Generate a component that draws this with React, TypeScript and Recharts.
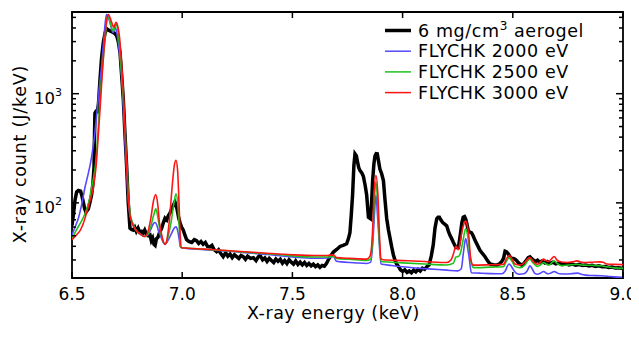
import React from 'react';
import { LineChart, Line, XAxis, YAxis, ReferenceArea } from 'recharts';

// ---------- data (energy keV, X-ray count J/keV) ----------
const aerogel: [number, number][] = [
  [6.5, 62], [6.506, 77], [6.514, 107], [6.521, 126], [6.529, 130], [6.539, 128], [6.545, 116], [6.551, 102],
  [6.557, 89], [6.563, 82], [6.569, 85], [6.574, 88], [6.582, 102], [6.589, 119], [6.595, 150], [6.6, 213],
  [6.602, 400], [6.604, 663], [6.609, 690], [6.615, 686], [6.62, 800], [6.627, 1345], [6.634, 2100], [6.642, 2940],
  [6.65, 3600], [6.657, 3950], [6.664, 3850], [6.672, 3760], [6.68, 3700], [6.687, 3630], [6.695, 3550], [6.703, 3380],
  [6.71, 3000], [6.718, 2375], [6.725, 1500], [6.733, 880], [6.74, 440], [6.748, 213], [6.755, 102], [6.763, 58.7],
  [6.77, 57], [6.778, 56.3], [6.785, 59.5], [6.792, 54.8], [6.8, 58.7], [6.807, 54], [6.815, 54.8], [6.822, 52.5],
  [6.83, 56.3], [6.838, 51.7], [6.846, 50], [6.854, 50.8], [6.86, 45.1], [6.866, 47.6], [6.872, 41.7], [6.877, 40.8],
  [6.883, 46.8], [6.89, 48.4], [6.897, 53.2], [6.907, 58.7], [6.914, 65.3], [6.922, 72.4], [6.93, 69.6], [6.937, 76],
  [6.945, 81], [6.952, 88], [6.96, 95], [6.967, 102], [6.972, 97], [6.978, 85], [6.984, 73], [6.99, 66],
  [6.997, 60], [7.005, 56.3], [7.012, 50.8], [7.02, 46], [7.03, 44.3], [7.043, 43.4], [7.055, 46], [7.065, 45.1],
  [7.075, 42.5], [7.085, 44.3], [7.095, 41.7], [7.105, 43.4], [7.115, 39.9], [7.126, 39.5], [7.135, 40.8], [7.145, 37.2],
  [7.156, 35.7], [7.165, 37.2], [7.175, 34.4], [7.186, 32.2], [7.197, 34.9], [7.207, 32.5], [7.217, 34], [7.227, 31.5],
  [7.237, 33.5], [7.247, 32.2], [7.257, 31], [7.267, 33], [7.277, 32.2], [7.287, 30.4], [7.297, 32.5], [7.31, 31],
  [7.323, 31.4], [7.335, 29.6], [7.345, 32], [7.353, 33.1], [7.365, 30.1], [7.375, 31.3], [7.385, 29.1], [7.395, 31],
  [7.405, 29.6], [7.415, 28.4], [7.425, 30.6], [7.435, 29.1], [7.445, 30.4], [7.455, 28], [7.465, 29.6], [7.475, 27.8],
  [7.485, 30.1], [7.495, 28.6], [7.505, 27.5], [7.515, 29.4], [7.525, 27.3], [7.535, 28.6], [7.545, 27], [7.555, 28.4],
  [7.565, 26.7], [7.575, 27.9], [7.585, 26.5], [7.595, 27.5], [7.605, 26.1], [7.615, 27], [7.625, 25.7], [7.635, 26.7],
  [7.645, 26.3], [7.655, 28], [7.665, 30.6], [7.675, 33], [7.686, 35.4], [7.701, 37.4], [7.716, 39.9], [7.73, 40.8],
  [7.746, 42.2], [7.754, 46.8], [7.761, 53.2], [7.767, 77], [7.773, 118], [7.779, 220], [7.784, 281], [7.79, 270],
  [7.795, 240], [7.801, 210], [7.807, 197], [7.815, 188], [7.822, 175], [7.83, 145], [7.837, 118], [7.845, 73.8],
  [7.855, 71.5], [7.86, 107], [7.864, 160], [7.87, 230], [7.875, 270], [7.88, 282], [7.885, 281], [7.891, 240],
  [7.897, 204], [7.905, 185], [7.913, 160], [7.92, 107], [7.928, 71.5], [7.936, 56.3], [7.943, 47.6], [7.95, 39.9],
  [7.958, 33.5], [7.966, 29.6], [7.973, 27.5], [7.982, 26], [7.99, 24.4], [8.0, 23.6], [8.01, 24.4], [8.02, 23.1],
  [8.03, 23.8], [8.04, 22.9], [8.05, 24.2], [8.06, 23.3], [8.07, 24.6], [8.08, 23.7], [8.09, 25.2], [8.1, 24.6],
  [8.11, 26], [8.12, 27], [8.13, 32.5], [8.139, 41.2], [8.147, 58.7], [8.155, 71.5], [8.161, 73.8], [8.167, 73.8],
  [8.174, 69.6], [8.182, 66], [8.191, 63.8], [8.2, 61.6], [8.208, 54.8], [8.215, 50.4], [8.223, 46.8], [8.23, 43.5],
  [8.242, 39], [8.253, 39], [8.258, 45.1], [8.263, 53.2], [8.269, 66], [8.275, 74], [8.281, 75], [8.286, 71.5],
  [8.292, 63.8], [8.298, 55.5], [8.305, 54], [8.313, 53.2], [8.32, 50], [8.328, 45.6], [8.34, 40.8], [8.351, 36.8],
  [8.362, 34.4], [8.374, 32.1], [8.385, 29.6], [8.397, 27.5], [8.412, 27.1], [8.427, 26.9], [8.44, 27.7], [8.45, 29],
  [8.458, 31], [8.465, 36], [8.472, 35.5], [8.48, 34], [8.488, 32], [8.495, 31], [8.503, 31], [8.51, 30.5],
  [8.518, 29.5], [8.525, 28.3], [8.533, 27.5], [8.54, 26.9], [8.55, 27.8], [8.563, 30], [8.57, 31.5], [8.578, 32],
  [8.585, 31], [8.593, 30], [8.602, 29], [8.612, 29.8], [8.622, 28.5], [8.632, 29.3], [8.645, 28.2], [8.657, 29],
  [8.67, 27.9], [8.682, 28.6], [8.695, 27.6], [8.71, 28.2], [8.725, 27.2], [8.74, 27.8], [8.755, 27], [8.77, 27.5],
  [8.785, 26.9], [8.8, 27.3], [8.815, 26.7], [8.83, 27], [8.845, 26.4], [8.86, 26.8], [8.875, 26.2], [8.89, 26.5],
  [8.905, 26], [8.92, 26.1], [8.935, 25.6], [8.95, 25.8], [8.965, 25.3], [8.98, 25.4], [9.0, 25],
];

const flychk2000: [number, number][] = [
  [6.5, 50.8], [6.515, 60.9], [6.529, 72.4], [6.545, 99], [6.559, 139], [6.575, 190], [6.589, 264], [6.6, 380],
  [6.61, 576], [6.622, 1050], [6.634, 1785], [6.645, 3300], [6.652, 4700], [6.657, 5300], [6.664, 5100], [6.672, 4500],
  [6.68, 3900], [6.685, 3630], [6.69, 3800], [6.695, 4050], [6.702, 3700], [6.71, 2940], [6.718, 2100], [6.725, 1445],
  [6.733, 750], [6.74, 376], [6.748, 190], [6.756, 102], [6.763, 77], [6.77, 68.9], [6.78, 60.9], [6.79, 56.3],
  [6.805, 52.5], [6.82, 50], [6.831, 49.2], [6.845, 50.8], [6.86, 58.7], [6.87, 64.6], [6.877, 66], [6.885, 62.4],
  [6.893, 54.8], [6.9, 50.8], [6.91, 45.1], [6.922, 41.7], [6.935, 45.1], [6.95, 51.7], [6.962, 58], [6.972, 60.2],
  [6.98, 54.8], [6.986, 46.8], [6.992, 39.4], [7.0, 38.6], [7.1, 37.3], [7.2, 36.2], [7.3, 34.8], [7.4, 33.5],
  [7.5, 32], [7.6, 31.1], [7.66, 31.3], [7.686, 32.3], [7.7, 29.2], [7.72, 28.8], [7.78, 28.3], [7.837, 27.8],
  [7.855, 28.6], [7.866, 46.8], [7.872, 77], [7.879, 118], [7.886, 77], [7.893, 46.8], [7.902, 27.5], [7.95, 26.7],
  [8.0, 26], [8.1, 25], [8.2, 24.2], [8.25, 23.8], [8.266, 24.9], [8.276, 35], [8.286, 47], [8.294, 40],
  [8.302, 31.5], [8.312, 22.9], [8.35, 22.7], [8.4, 22.5], [8.45, 22.4], [8.466, 23.8], [8.476, 26.5], [8.484, 27.5],
  [8.492, 26.5], [8.5, 24.9], [8.515, 22.7], [8.53, 22.2], [8.55, 22.4], [8.565, 23.8], [8.578, 26.5], [8.59, 24.4],
  [8.6, 22.6], [8.612, 22.2], [8.625, 22.7], [8.64, 23.5], [8.652, 22.7], [8.662, 22.4], [8.675, 22.9], [8.688, 23.5],
  [8.7, 22.9], [8.712, 22.4], [8.74, 22.3], [8.77, 22.5], [8.795, 22.7], [8.81, 22.2], [8.83, 21.8], [8.86, 21.6],
  [8.9, 21.5], [8.93, 21.3], [8.96, 21], [9.0, 20.8],
];

const flychk2500: [number, number][] = [
  [6.5, 46.8], [6.52, 56.3], [6.538, 65.3], [6.552, 73.8], [6.567, 88], [6.58, 109], [6.589, 139], [6.6, 180],
  [6.609, 246], [6.618, 450], [6.627, 880], [6.638, 1700], [6.65, 3150], [6.656, 4300], [6.66, 5000], [6.666, 4950],
  [6.672, 4600], [6.68, 4000], [6.687, 3750], [6.693, 4000], [6.7, 4340], [6.706, 4000], [6.713, 3150], [6.722, 1800],
  [6.733, 880], [6.74, 480], [6.748, 246], [6.755, 128], [6.763, 82], [6.775, 65.3], [6.79, 56.3], [6.81, 51.7],
  [6.831, 49.2], [6.845, 51.7], [6.86, 63.8], [6.872, 79], [6.88, 88], [6.888, 77], [6.896, 60.9], [6.905, 50.8],
  [6.914, 44.3], [6.922, 41.7], [6.935, 48.4], [6.948, 63.8], [6.96, 92], [6.972, 121], [6.98, 97], [6.986, 62.4],
  [6.992, 39.9], [7.0, 38.8], [7.1, 37.6], [7.2, 36.4], [7.3, 35.2], [7.4, 34.1], [7.5, 32.7], [7.6, 31.9],
  [7.66, 31.9], [7.686, 32.3], [7.7, 31], [7.76, 30.4], [7.837, 29.7], [7.855, 30.6], [7.864, 46.8], [7.872, 107],
  [7.879, 155], [7.886, 107], [7.894, 46.8], [7.902, 29], [8.0, 28.2], [8.1, 27.5], [8.2, 27], [8.23, 28],
  [8.242, 31.9], [8.253, 32.3], [8.262, 34.4], [8.274, 45], [8.286, 58], [8.295, 50], [8.304, 36], [8.313, 27.5],
  [8.322, 25.5], [8.4, 25.8], [8.457, 26], [8.47, 29], [8.484, 31.5], [8.495, 29.5], [8.51, 26.2], [8.533, 25.5],
  [8.555, 27], [8.567, 29.5], [8.578, 30.5], [8.59, 28.5], [8.602, 26.9], [8.612, 26.2], [8.625, 27], [8.64, 28.4],
  [8.652, 27.4], [8.664, 26.9], [8.676, 28.2], [8.688, 29.4], [8.7, 27.9], [8.72, 26.6], [8.75, 26.9], [8.79, 27.4],
  [8.82, 26.9], [8.86, 26.8], [8.9, 26.5], [8.93, 25.9], [8.96, 25.4], [9.0, 25.1],
];

const flychk3000: [number, number][] = [
  [6.5, 46], [6.52, 50.8], [6.538, 56.3], [6.552, 65.3], [6.567, 82], [6.582, 105], [6.597, 139], [6.609, 213],
  [6.618, 380], [6.627, 710], [6.638, 1600], [6.65, 3380], [6.658, 4800], [6.665, 5300], [6.672, 5000], [6.68, 4500],
  [6.69, 4050], [6.695, 4300], [6.7, 4500], [6.707, 4200], [6.715, 3380], [6.724, 2000], [6.733, 1020], [6.74, 480],
  [6.748, 213], [6.755, 113], [6.763, 77], [6.775, 63.8], [6.79, 56.3], [6.81, 51.7], [6.831, 49.2], [6.845, 54.8],
  [6.858, 73], [6.87, 105], [6.88, 119], [6.889, 97], [6.897, 65.3], [6.905, 53.2], [6.914, 44.3], [6.922, 41.7],
  [6.93, 45.1], [6.942, 69.6], [6.955, 145], [6.965, 225], [6.972, 246], [6.979, 200], [6.985, 107], [6.991, 50.8],
  [6.996, 39], [7.0, 38.8], [7.1, 37.7], [7.2, 36.6], [7.3, 35.5], [7.4, 34.4], [7.5, 33.5], [7.6, 33],
  [7.66, 33], [7.686, 33.4], [7.7, 31.5], [7.76, 31], [7.837, 30.5], [7.852, 32.5], [7.86, 41.2], [7.866, 69.6],
  [7.87, 118], [7.879, 178], [7.888, 118], [7.895, 50.8], [7.902, 30.6], [7.913, 30.1], [8.0, 29.6], [8.1, 29],
  [8.2, 28.4], [8.22, 30.1], [8.23, 33.8], [8.242, 39.9], [8.253, 37.2], [8.26, 42.5], [8.268, 53.2], [8.278, 64],
  [8.286, 68], [8.294, 61], [8.3, 50.8], [8.309, 30.5], [8.321, 26.9], [8.4, 27.1], [8.457, 27.3], [8.472, 31],
  [8.484, 33], [8.495, 31], [8.51, 27.5], [8.533, 26.9], [8.555, 28.6], [8.567, 30.5], [8.578, 31.5], [8.593, 29],
  [8.611, 27.3], [8.625, 28.6], [8.639, 30.5], [8.65, 29.6], [8.661, 29], [8.675, 30.6], [8.687, 32.3], [8.7, 30.1],
  [8.712, 29], [8.744, 28.4], [8.77, 28.8], [8.79, 29.4], [8.82, 28.4], [8.86, 28.6], [8.896, 28.8], [8.91, 28.6],
  [8.926, 27.5], [8.96, 27.3], [9.0, 27.2],
];

const xTicks = [6.5, 7.0, 7.5, 8.0, 8.5, 9.0];
const yMajor = [100, 1000];
const yTicks = [30, 40, 50, 60, 70, 80, 90, 100, 200, 300, 400, 500, 600, 700, 800, 900, 1000, 2000, 3000, 4000, 5000];
const yDomain: [number, number] = [20.5, 5600];
const xDomain: [number, number] = [6.5, 9.0];

const seriesNames = ['6 mg/cm³ aerogel', 'FLYCHK 2000 eV', 'FLYCHK 2500 eV', 'FLYCHK 3000 eV'];

// ---------- layout ----------
const W = 631;
const H = 330;
const M = { top: 4, right: 16, left: 0, bottom: 0 };
const YW = 64;
const XH = 60;
const PL = M.left + YW;
const PR = W - M.right;
const PT = M.top;
const PB = H - M.bottom - XH;
const FONT = 'DejaVu Sans, Verdana, sans-serif';

const BLACK = '#000000';
const BLUE = '#5548ff';
const GREEN = '#1ec21e';
const RED = '#ff1414';

const toRows = (arr: [number, number][]) => arr.map(([x, v]) => ({ x, v }));

const XTick = (props: any) => {
  const { x, payload } = props;
  const v = payload.value as number;
  return (
    <g>
      <line x1={x} x2={x} y1={PB} y2={PB - 6} stroke="#000" strokeWidth={1.5} />
      <line x1={x} x2={x} y1={PT} y2={PT + 6} stroke="#000" strokeWidth={1.5} />
      <text x={x} y={PB + 22} textAnchor="middle" fontSize={17} fill="#000" fontFamily={FONT}>
        {v.toFixed(1)}
      </text>
    </g>
  );
};

const YTick = (props: any) => {
  const { y, payload } = props;
  const v = payload.value as number;
  const major = yMajor.includes(v);
  const len = major ? 7 : 4;
  const exp = Math.round(Math.log10(v));
  return (
    <g>
      <line x1={PL} x2={PL + len} y1={y} y2={y} stroke="#000" strokeWidth={1.5} />
      <line x1={PR - len} x2={PR} y1={y} y2={y} stroke="#000" strokeWidth={1.5} />
      {major && (
        <text x={PL - 10} y={y + 10} textAnchor="end" fontSize={16.5} fill="#000" fontFamily={FONT}>
          10<tspan dy={-8} fontSize={11}>{exp}</tspan>
        </text>
      )}
    </g>
  );
};

const YTitle = () => (
  <text
    x={18}
    y={146}
    transform="rotate(-90 18 146)"
    textAnchor="middle"
    fontSize={17.5}
    letterSpacing={0.8}
    fill="#000"
    fontFamily={FONT}
  >
    X-ray count (J/keV)
  </text>
);

const XTitle = () => (
  <text x={239} y={311} textAnchor="start" fontSize={17.5} letterSpacing={0.5} fill="#000" fontFamily={FONT}>
    X-ray energy (keV)
  </text>
);

const LegendBox = () => {
  const rows = [
    { c: BLACK, w: 3.5 },
    { c: BLUE, w: 1.5 },
    { c: GREEN, w: 1.5 },
    { c: RED, w: 1.5 },
  ];
  const y0 = 22.5;
  const dy = 20.7;
  return (
    <svg width={W} height={H} style={{ position: 'absolute', left: 0, top: 0, pointerEvents: 'none' }}>
      {rows.map((r, i) => {
        const cy = y0 + i * dy;
        return (
          <g key={i}>
            <line x1={377} x2={403} y1={cy} y2={cy} stroke={r.c} strokeWidth={r.w} />
            <text x={410} y={cy + 6} fontSize={17.5} letterSpacing={0.6} fill="#000" fontFamily={FONT}>
              {i === 0 ? (
                <>
                  6 mg/cm<tspan dy={-7} fontSize={12}>3</tspan>
                  <tspan dy={7}> aerogel</tspan>
                </>
              ) : (
                seriesNames[i]
              )}
            </text>
          </g>
        );
      })}
    </svg>
  );
};

export default function App() {
  return (
    <div style={{ position: 'relative', width: W, height: H, fontFamily: FONT }}>
      <LineChart width={W} height={H} margin={M}>
        <XAxis
          dataKey="x"
          type="number"
          domain={xDomain}
          ticks={xTicks}
          interval={0}
          allowDataOverflow
          axisLine={false}
          tickLine={false}
          tickSize={0}
          tickMargin={0}
          height={XH}
          tick={<XTick />}
          label={<XTitle />}
        />
        <YAxis
          type="number"
          scale="log"
          domain={yDomain}
          ticks={yTicks}
          interval={0}
          allowDataOverflow
          axisLine={false}
          tickLine={false}
          tickSize={0}
          tickMargin={0}
          width={YW}
          tick={<YTick />}
          label={<YTitle />}
        />
        <Line data={toRows(aerogel)} dataKey="v" name={seriesNames[0]} type="linear" stroke={BLACK} strokeWidth={3.5} dot={false} isAnimationActive={false} />
        <Line data={toRows(flychk2000)} dataKey="v" name={seriesNames[1]} type="monotone" stroke={BLUE} strokeWidth={1.6} dot={false} isAnimationActive={false} />
        <Line data={toRows(flychk2500)} dataKey="v" name={seriesNames[2]} type="monotone" stroke={GREEN} strokeWidth={1.6} dot={false} isAnimationActive={false} />
        <Line data={toRows(flychk3000)} dataKey="v" name={seriesNames[3]} type="monotone" stroke={RED} strokeWidth={1.6} dot={false} isAnimationActive={false} />
        <ReferenceArea x1={xDomain[0]} x2={xDomain[1]} y1={yDomain[0]} y2={yDomain[1]} fill="none" stroke="#000" strokeWidth={1.8} ifOverflow="visible" />
      </LineChart>
      <LegendBox />
    </div>
  );
}
